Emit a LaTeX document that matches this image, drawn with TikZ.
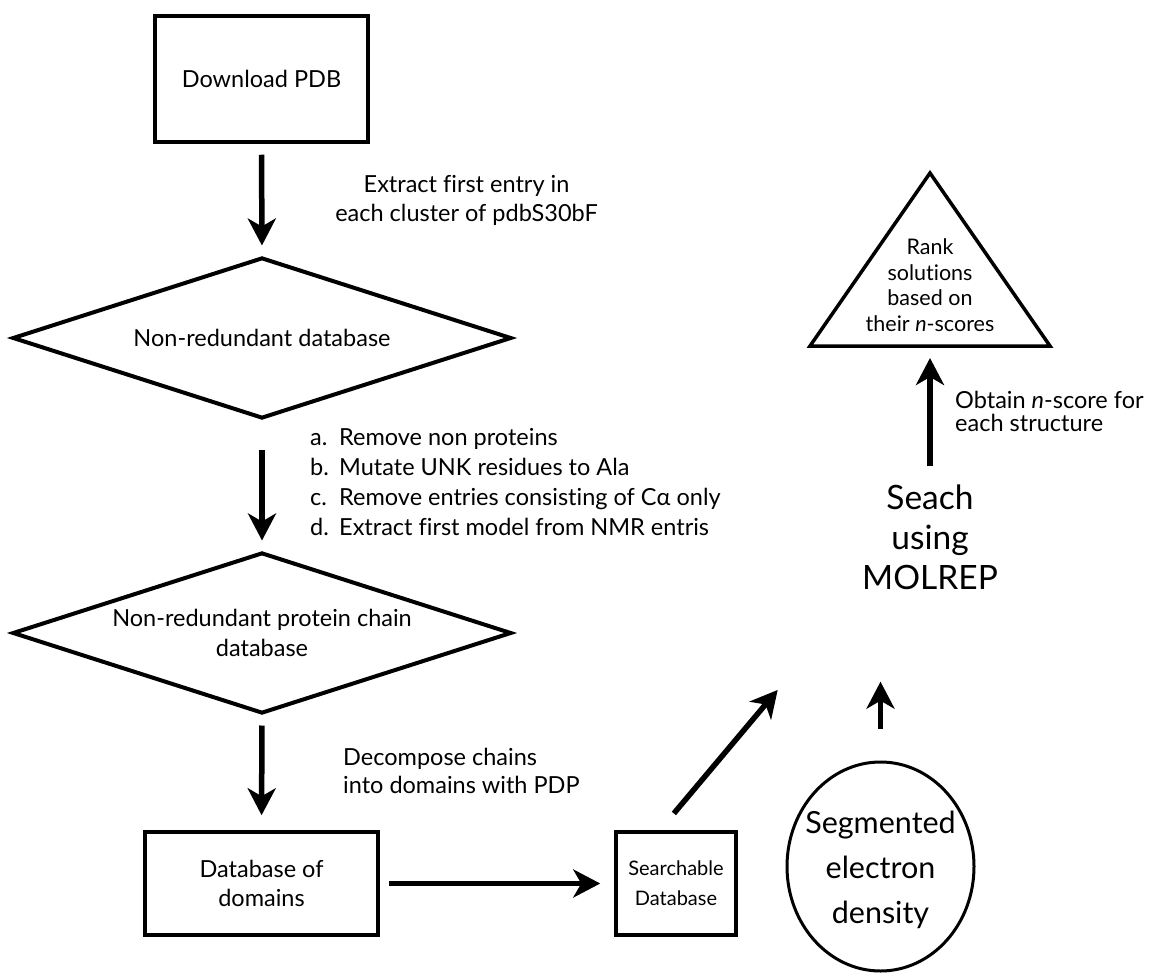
\documentclass[tikz,border=0pt]{standalone}
\usepackage{fontspec}
\setmainfont{Lato}[Ligatures=NoCommon]
\usetikzlibrary{arrows.meta,shapes.geometric,calc}
\newcommand\myfs[2]{\fontsize{#1}{#2}\selectfont}
\begin{document}
\begin{tikzpicture}[x=1pt,y=-1pt,
  box/.style={draw, line width=3.5pt, rectangle, inner sep=0pt, align=center, font=\myfs{23.5}{29}},
  dia/.style={draw, line width=4pt, diamond, aspect=3.1, inner sep=0pt, minimum width=499pt, minimum height=161pt, align=center, font=\myfs{23.5}{30}},
  arr/.style={line width=5.5pt, -{Stealth[length=27pt,width=28pt,inset=8pt]}},
  txt/.style={inner sep=0pt},
  ]
\useasboundingbox (0,0) rectangle (1150,973);

% main flow nodes
\node[box, minimum width=213pt, minimum height=126pt] (pdb) at (261.5,79) {Download PDB};
\node[dia] (nr) at (262,338) {Non-redundant database};
\node[dia] (nrp) at (262,633) {Non-redundant protein chain\\database};
\node[box, minimum width=233pt, minimum height=103pt] (dom) at (261.5,883.5) {Database of\\domains};
\node[box, minimum width=120pt, minimum height=103pt, font=\myfs{20}{30}] (srch) at (676,883.5) {Searchable\\Database};

% segmented density
\node[draw, ellipse, line width=3pt, minimum width=187pt, minimum height=209pt, inner sep=0pt] (seg) at (880.5,866.5) {};
\node[txt, align=center, font=\myfs{30.5}{45}] (segt) at (880.5,870) {Segmented\\electron\\density};

% MOLREP
\node[txt, align=center, font=\myfs{33.5}{40}] (mol) at (930,537) {Seach\\using\\MOLREP};

% triangle
\draw[line width=3.5pt, line join=miter] (930,173) -- (1050,346) -- (810,346) -- cycle;
\coordinate (tribase) at (930,346);
\node[txt, align=center, font=\myfs{21.5}{25.5}] (rank) at (930,285) {Rank\\solutions\\based on\\their \textit{n}-scores};

% labels
\node[txt, align=center, font=\myfs{23.5}{29}] (l1) at (466.5,200.5) {Extract first entry in\\each cluster of pdbS30bF};
\node[txt, align=left, anchor=west, font=\myfs{23.5}{30}] (l2) at (310,482) {\makebox[29pt][l]{a.}Remove non proteins\\\makebox[29pt][l]{b.}Mutate UNK residues to Ala\\\makebox[29pt][l]{c.}Remove entries consisting of Cα only\\\makebox[29pt][l]{d.}Extract first model from NMR entris};
\node[txt, align=left, anchor=west, font=\myfs{23.5}{28}] (l3) at (343,771) {Decompose chains\\into domains with PDP};
\node[txt, align=left, anchor=west, font=\myfs{23.5}{23}] (l4) at (955,411.5) {Obtain \textit{n}-score for\\each structure};

% connectors
\draw[arr, shorten <=11pt, shorten >=10pt] (pdb.south) -- (nr.north);
\draw[arr, shorten <=29pt, shorten >=10pt] (nr.south) -- (nrp.north);
\draw[arr, shorten <=10pt, shorten >=15pt] (nrp.south) -- (dom.north);
\draw[arr, shorten <=9pt, shorten >=14pt] (dom.east) -- (srch.west);
\draw[arr, shorten <=22pt, shorten >=131pt] (srch.107) -- (mol.south west);
\draw[arr, shorten <=32pt, shorten >=92pt] (seg.north) -- (seg.north |- mol.south);
\draw[arr, shorten <=18pt, shorten >=12pt] (mol.north) -- (tribase);
\end{tikzpicture}
\end{document}
